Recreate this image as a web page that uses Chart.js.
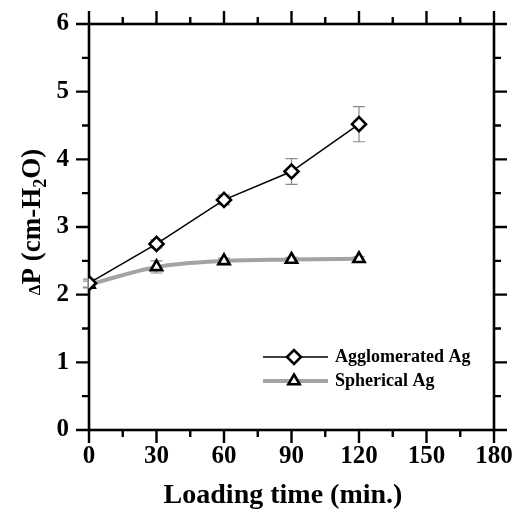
<!DOCTYPE html>
<html>
<head>
<meta charset="utf-8">
<title>Pressure drop vs loading time</title>
<script src="https://cdn.jsdelivr.net/npm/chart.js@4.4.1/dist/chart.umd.min.js"></script>
<style>
    html, body { margin: 0; padding: 0; background: #ffffff; }
    #wrap { position: relative; width: 515px; height: 514px; }
</style>
</head>
<body>
<div id="wrap"><canvas id="dpChart" width="515" height="514"></canvas></div>
<script>
// Loading time (min.) and pressure drop (cm-H2O) for both Ag powders
const loadingTimes = [0, 30, 60, 90, 120];
const agglomeratedDP = [2.17, 2.75, 3.40, 3.82, 4.52];
const agglomeratedErr = [0.06, 0.06, 0.07, 0.19, 0.26];
const sphericalDP = [2.15, 2.41, 2.50, 2.52, 2.53];
const sphericalErr = [0.05, 0.09, 0.04, 0.03, 0.03];
const seriesLabels = ['Agglomerated Ag', 'Spherical Ag'];

const SERIF = '"Liberation Serif", "Times New Roman", serif';

function toPoints(xs, ys, errs) {
    return xs.map((x, i) => ({ x: x, y: ys[i], err: errs[i] }));
}

// keep the plot box fixed: no extra room for label overhang
function noOverhang(scale) {
    scale.paddingTop = 0;
    scale.paddingBottom = 0;
    scale.paddingLeft = 0;
    scale.paddingRight = 0;
}

// Frame on all four sides with outward major/minor ticks
const framePlugin = {
    id: 'frame',
    beforeDatasetsDraw(chart) {
        const { ctx, chartArea: a, scales: { x, y } } = chart;
        ctx.save();
        ctx.strokeStyle = '#000';
        ctx.lineWidth = 2.6;
        ctx.strokeRect(a.left, a.top, a.right - a.left, a.bottom - a.top);
        const major = 13, minor = 7;
        ctx.lineWidth = 2.4;
        ctx.beginPath();
        for (let v = x.min; v <= x.max + 0.001; v += 15) {
            const px = x.getPixelForValue(v);
            const len = (v % 30 === 0) ? major : minor;
            ctx.moveTo(px, a.bottom); ctx.lineTo(px, a.bottom + len);
            ctx.moveTo(px, a.top); ctx.lineTo(px, a.top - len);
        }
        for (let v = y.min; v <= y.max + 0.001; v += 0.5) {
            const py = y.getPixelForValue(v);
            const len = (Math.abs(v % 1) < 0.001) ? major : minor;
            ctx.moveTo(a.left, py); ctx.lineTo(a.left - len, py);
            ctx.moveTo(a.right, py); ctx.lineTo(a.right + len, py);
        }
        ctx.stroke();
        ctx.restore();
    }
};

// Error bars (grey, capped) drawn under the markers
const errorBarPlugin = {
    id: 'errorBars',
    beforeDatasetsDraw(chart) {
        const { ctx, scales: { x, y } } = chart;
        ctx.save();
        ctx.strokeStyle = '#8a8a8a';
        ctx.lineWidth = 1.2;
        chart.data.datasets.forEach(ds => {
            ds.data.forEach(p => {
                const px = x.getPixelForValue(p.x);
                const top = y.getPixelForValue(p.y + p.err);
                const bot = y.getPixelForValue(p.y - p.err);
                ctx.beginPath();
                ctx.moveTo(px, top); ctx.lineTo(px, bot);
                ctx.moveTo(px - 6, top); ctx.lineTo(px + 6, top);
                ctx.moveTo(px - 6, bot); ctx.lineTo(px + 6, bot);
                ctx.stroke();
            });
        });
        ctx.restore();
    }
};

// Axis titles and the in-plot legend
const labelsPlugin = {
    id: 'labels',
    afterDraw(chart) {
        const { ctx } = chart;
        ctx.save();
        ctx.fillStyle = '#000';

        // x title
        ctx.font = 'bold 28px ' + SERIF;
        ctx.textAlign = 'center';
        ctx.textBaseline = 'alphabetic';
        ctx.fillText('Loading time (min.)', 283, 503);

        // y title: ΔP (cm-H2O) with subscript 2
        ctx.translate(40, 222);
        ctx.rotate(-Math.PI / 2);
        const parts = [
            { t: '\u0394', f: 'bold 17px ', dy: 0 },
            { t: 'P (cm-H', f: 'bold 27px ', dy: 0 },
            { t: '2', f: 'bold 18px ', dy: 6 },
            { t: 'O)', f: 'bold 27px ', dy: 0 }
        ];
        let total = 0;
        parts.forEach(p => { ctx.font = p.f + SERIF; p.w = ctx.measureText(p.t).width; total += p.w; });
        let cx = -total / 2;
        ctx.textAlign = 'left';
        parts.forEach(p => {
            ctx.font = p.f + SERIF;
            ctx.fillText(p.t, cx, p.dy);
            cx += p.w;
        });
        ctx.setTransform(1, 0, 0, 1, 0, 0);

        // legend
        const rows = [357, 381];
        chart.data.datasets.forEach((ds, i) => {
            const ly = rows[i];
            ctx.strokeStyle = ds.borderColor;
            ctx.lineWidth = ds.borderWidth;
            ctx.beginPath();
            ctx.moveTo(263, ly); ctx.lineTo(328, ly);
            ctx.stroke();
            ctx.fillStyle = ds.pointBackgroundColor;
            ctx.strokeStyle = ds.pointBorderColor;
            ctx.lineWidth = ds.pointBorderWidth;
            Chart.helpers.drawPoint(ctx, {
                pointStyle: ds.pointStyle,
                radius: ds.pointRadius,
                borderWidth: ds.pointBorderWidth
            }, 294, ly);
            ctx.fillStyle = '#000';
            ctx.font = 'bold 18px ' + SERIF;
            ctx.textBaseline = 'middle';
            ctx.fillText(ds.label, 335, ly);
        });
        ctx.restore();
    }
};

new Chart(document.getElementById('dpChart').getContext('2d'), {
    type: 'line',
    data: {
        datasets: [{
            label: seriesLabels[0],
            data: toPoints(loadingTimes, agglomeratedDP, agglomeratedErr),
            borderColor: '#000000',
            borderWidth: 1.5,
            pointStyle: 'rectRot',
            pointRadius: 7,
            pointBorderWidth: 2.6,
            pointBackgroundColor: '#ffffff',
            pointBorderColor: '#000000',
            tension: 0,
            order: 1
        }, {
            label: seriesLabels[1],
            data: toPoints(loadingTimes, sphericalDP, sphericalErr),
            borderColor: '#a3a3a3',
            borderWidth: 4,
            pointStyle: 'triangle',
            pointRadius: 6.5,
            pointBorderWidth: 2.6,
            pointBackgroundColor: '#ffffff',
            pointBorderColor: '#000000',
            cubicInterpolationMode: 'monotone',
            order: 2
        }]
    },
    options: {
        responsive: false,
        animation: false,
        layout: { padding: { top: 24, right: 21, left: 0, bottom: 0 } },
        plugins: {
            legend: { display: false },
            tooltip: { enabled: false }
        },
        scales: {
            x: {
                type: 'linear',
                min: 0,
                max: 180,
                grid: { display: false, drawTicks: false },
                border: { display: false },
                ticks: {
                    stepSize: 30,
                    padding: 12,
                    color: '#000',
                    maxRotation: 0,
                    font: { family: SERIF, size: 25, weight: 'bold' }
                },
                afterFit(scale) { scale.height = 84; noOverhang(scale); }
            },
            y: {
                min: 0,
                max: 6,
                grid: { display: false, drawTicks: false },
                border: { display: false },
                ticks: {
                    stepSize: 1,
                    padding: 20,
                    color: '#000',
                    font: { family: SERIF, size: 25, weight: 'bold' }
                },
                afterFit(scale) { scale.width = 89; noOverhang(scale); }
            }
        }
    },
    plugins: [framePlugin, errorBarPlugin, labelsPlugin]
});
</script>
</body>
</html>
